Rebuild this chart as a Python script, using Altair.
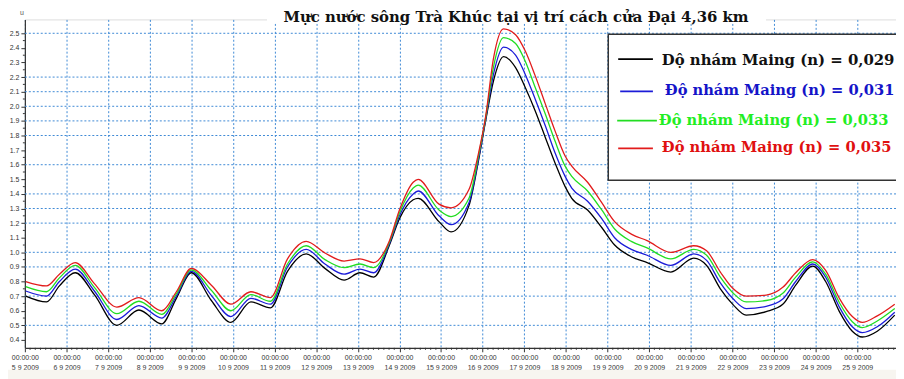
import altair as alt
import pandas as pd

TITLE = "Mực nước sông Trà Khúc tại vị trí cách cửa Đại 4,36 km"
START_DAY = 5  # 5 9 2009, 00:00:00

# time in days since 05/09/2009 00:00
days = [0.02, 0.52, 0.83, 1.21, 1.67, 2.21, 2.74, 3.29, 3.64, 4.00,
        4.48, 4.95, 5.43, 5.90, 6.31, 6.76, 7.21, 7.67, 8.05, 8.38,
        8.76, 9.00, 9.33, 9.45, 9.95, 10.24, 10.67, 10.90, 11.07, 11.26,
        11.50, 11.79, 12.02, 12.26, 12.50, 12.74, 12.98, 13.14, 13.52, 13.86,
        14.17, 14.57, 14.95, 15.52, 16.07, 16.38, 16.71, 17.02, 17.33, 17.81,
        18.21, 18.52, 18.93, 19.24, 19.57, 19.88, 20.12, 20.48, 20.90]

lv_029 = [0.70, 0.66, 0.77, 0.86, 0.71, 0.50, 0.605, 0.51, 0.685, 0.86,
          0.67, 0.52, 0.66, 0.62, 0.87, 0.99, 0.89, 0.81, 0.86, 0.83,
          1.05, 1.23, 1.36, 1.37, 1.21, 1.14, 1.32, 1.63, 1.90, 2.175,
          2.34, 2.265, 2.13, 1.97, 1.79, 1.61, 1.45, 1.37, 1.29, 1.17,
          1.05, 0.97, 0.93, 0.865, 0.96, 0.91, 0.75, 0.64, 0.57, 0.594,
          0.644, 0.775, 0.906, 0.80, 0.594, 0.46, 0.42, 0.46, 0.57]

lv_031 = [0.735, 0.70, 0.80, 0.885, 0.735, 0.54, 0.635, 0.55, 0.70, 0.87,
          0.705, 0.56, 0.685, 0.645, 0.90, 1.02, 0.92, 0.85, 0.885, 0.86,
          1.06, 1.25, 1.40, 1.42, 1.25, 1.19, 1.34, 1.64, 1.91, 2.22,
          2.405, 2.35, 2.22, 2.05, 1.87, 1.68, 1.52, 1.44, 1.35, 1.23,
          1.10, 1.02, 0.98, 0.91, 0.99, 0.945, 0.79, 0.68, 0.615, 0.63,
          0.68, 0.80, 0.92, 0.83, 0.625, 0.49, 0.45, 0.49, 0.59]

lv_033 = [0.765, 0.73, 0.825, 0.91, 0.76, 0.58, 0.665, 0.575, 0.715, 0.88,
          0.74, 0.60, 0.71, 0.665, 0.92, 1.045, 0.95, 0.895, 0.92, 0.895,
          1.07, 1.27, 1.44, 1.46, 1.29, 1.245, 1.37, 1.66, 1.92, 2.27,
          2.47, 2.43, 2.31, 2.13, 1.95, 1.76, 1.59, 1.52, 1.42, 1.29,
          1.16, 1.075, 1.03, 0.955, 1.02, 0.98, 0.83, 0.72, 0.66, 0.67,
          0.72, 0.83, 0.935, 0.85, 0.655, 0.525, 0.485, 0.53, 0.615]

lv_035 = [0.80, 0.77, 0.85, 0.93, 0.786, 0.625, 0.69, 0.60, 0.73, 0.89,
          0.775, 0.645, 0.73, 0.69, 0.955, 1.075, 0.995, 0.94, 0.955, 0.93,
          1.08, 1.29, 1.48, 1.50, 1.33, 1.305, 1.43, 1.68, 1.93, 2.33,
          2.53, 2.49, 2.38, 2.21, 2.02, 1.83, 1.66, 1.59, 1.48, 1.34,
          1.21, 1.125, 1.08, 1.00, 1.045, 1.01, 0.865, 0.75, 0.70, 0.707,
          0.76, 0.86, 0.95, 0.876, 0.685, 0.56, 0.52, 0.565, 0.645]

series_names = ["Dộ nhám Maing (n) = 0,029", "Độ nhám Maing (n) = 0,031",
                "Độ nhám Maing (n) = 0,033", "Độ nhám Maing (n) = 0,035"]
series_colors = ["#000000", "#1c1cd8", "#22dd22", "#e21c1c"]
legend_text_colors = ["#111111", "#1414c8", "#22ee22", "#e01010"]

y_tick_values = [round(0.4 + 0.1 * i, 1) for i in range(22)]
y_minor_ticks = [round(0.45 + 0.1 * i, 2) for i in range(21)]
grid_levels = [0.5, 0.7, 0.9, 1.0, 1.2, 1.3, 1.4, 1.6, 1.8, 1.9, 2.0, 2.1, 2.2, 2.5]
day_ticks = list(range(0, 21))
minor_day_ticks = [i / 8 for i in range(0, 168) if i % 8 != 0]

rows = []
for name, vals in zip(series_names, [lv_029, lv_031, lv_033, lv_035]):
    for d, v in zip(days, vals):
        rows.append({"day": d, "level": v, "series": name})
df = pd.DataFrame(rows)

W, H = 878, 331
GRID_COLOR = "#3f8ad6"
xscale = alt.Scale(domain=[0, 20.93], nice=False, zero=False)
yscale = alt.Scale(domain=[0.346, 2.595], nice=False, zero=False)

x_axis = alt.Axis(
    values=day_ticks,
    labelExpr=f"['00:00:00', (datum.value + {START_DAY}) + ' 9 2009']",
    labelFontSize=7, labelFont="Liberation Sans", labelColor="#333333",
    labelLineHeight=9.5, labelPadding=2, labelOverlap=False, labelFlush=False,
    labelBound=False,
    tickSize=4, tickColor="#333333", domainColor="#333333", domainWidth=1.2,
    grid=True, gridColor=GRID_COLOR, gridDash=[2, 2], gridWidth=1, title=None,
)
y_axis = alt.Axis(
    values=y_tick_values, format=".1f",
    labelFontSize=7, labelFont="Liberation Sans", labelColor="#333333",
    labelPadding=2, labelOverlap=False, labelFlush=False,
    tickSize=4, tickColor="#333333", domainColor="#333333", domainWidth=1.2,
    grid=False, title=None,
)

X = lambda: alt.X("day:Q", scale=xscale, axis=x_axis)
Y = lambda: alt.Y("level:Q", scale=yscale, axis=y_axis)

lines = alt.Chart(df).mark_line(interpolate="monotone", strokeWidth=1.3, clip=True).encode(
    x=X(), y=Y(),
    color=alt.Color("series:N", scale=alt.Scale(domain=series_names, range=series_colors), legend=None),
    order=alt.Order("day:Q"),
)

hgrid = alt.Chart(pd.DataFrame({"level": grid_levels})).mark_rule(
    color=GRID_COLOR, strokeDash=[2, 2], strokeWidth=1
).encode(y=Y())

x_minor = alt.Chart(pd.DataFrame({"day": minor_day_ticks})).mark_rule(
    color="#333333", strokeWidth=1
).encode(x=X(), y=alt.value(H), y2=alt.value(H + 2))

y_minor = alt.Chart(pd.DataFrame({"level": y_minor_ticks})).mark_rule(
    color="#333333", strokeWidth=1
).encode(y=Y(), x=alt.value(-2), x2=alt.value(0))

one = pd.DataFrame({"k": [0]})

bottom_band = alt.Chart(one).mark_rect(fill="#f7f5f0").encode(
    x=alt.value(-17), x2=alt.value(W), y=alt.value(H + 22), y2=alt.value(H + 40))

title_bg = alt.Chart(one).mark_rect(fill="white").encode(
    x=alt.value(244), x2=alt.value(747), y=alt.value(-10), y2=alt.value(4))
title = alt.Chart(one).mark_text(
    text=TITLE, font="DejaVu Serif", fontSize=15, fontWeight="bold",
    align="center", baseline="alphabetic", color="#111111"
).encode(x=alt.value(495), y=alt.value(2.5))

unit = alt.Chart(one).mark_text(
    text="u", font="Liberation Sans", fontSize=7, color="#555555", align="center"
).encode(x=alt.value(-3), y=alt.value(-6))

legend_box = alt.Chart(one).mark_rect(fill="white", stroke="#333333", strokeWidth=1.5).encode(
    x=alt.value(588), x2=alt.value(890), y=alt.value(15), y2=alt.value(162))

legend_layers = []
line_pos = [(598, 633, 40), (600, 633, 72.5), (597, 637, 102), (598, 633, 130)]
text_pos = [(642, 46), (645, 76), (639, 106), (642, 134)]
font_sizes = [15, 14.8, 14.8, 14.8]
for i, name in enumerate(series_names):
    x1, x2, yy = line_pos[i]
    legend_layers.append(
        alt.Chart(one).mark_rule(color=series_colors[i], strokeWidth=1.6).encode(
            x=alt.value(x1), x2=alt.value(x2), y=alt.value(yy)))
    tx, ty = text_pos[i]
    legend_layers.append(
        alt.Chart(one).mark_text(
            text=name, font="DejaVu Serif", fontSize=font_sizes[i], fontWeight="bold",
            align="left", baseline="alphabetic", color=legend_text_colors[i]
        ).encode(x=alt.value(tx), y=alt.value(ty)))

chart = alt.layer(
    bottom_band, hgrid, lines, x_minor, y_minor, title_bg, title, unit, legend_box, *legend_layers
).properties(
    width=W, height=H,
    autosize=alt.AutoSizeParams(type="none"),
    padding={"left": 17, "top": 10, "right": 0, "bottom": 40},
).configure_view(stroke="#444444", strokeWidth=1.2).configure(background="white")

chart.save("out.html", embed_options={"renderer": "svg", "actions": False})
